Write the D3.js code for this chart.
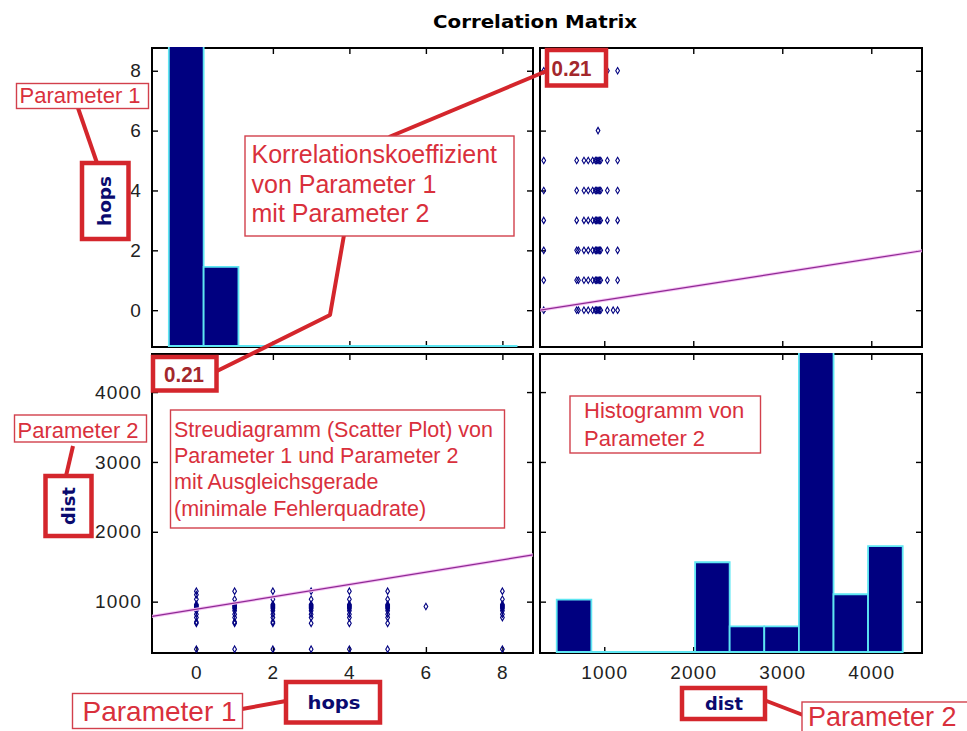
<!DOCTYPE html>
<html><head><meta charset="utf-8">
<script src="https://cdn.jsdelivr.net/npm/d3@7"></script>
<style>body{margin:0;background:#fff} svg{display:block}</style>
</head><body>
<svg id="c" width="967" height="731"></svg>
<script>
// ---------------- data ----------------
const hopsLevels = [0, 1, 2, 3, 4, 5, 6, 8];
const distByHops = [
  [320, 690, 710, 772, 820, 870, 900, 915, 930, 945, 960, 1035, 1100, 1150],
  [320, 690, 710, 772, 820, 870, 900, 915, 930, 945, 960, 1035, 1150],
  [320, 690, 710, 772, 820, 870, 900, 915, 930, 945, 960, 1035, 1150],
  [320, 690, 772, 820, 870, 900, 915, 930, 945, 960, 1035, 1150],
  [320, 690, 772, 820, 870, 900, 915, 930, 945, 960, 1035, 1150],
  [320, 690, 772, 820, 870, 900, 915, 930, 945, 960, 1035, 1150],
  [930],
  [320, 772, 820, 870, 900, 915, 930, 945, 960, 1035, 1150]
];
const hopsTicks = [0, 2, 4, 6, 8];
const distTicks = [1000, 2000, 3000, 4000];
const hopsDomainX = [-1.16, 8.8];
const hopsDomainY = [-1.23, 8.76];
const distDomainX = [278, 4570];
const distDomainY = [265, 4545];
const hopsHistEdges = [-0.72, 0.19, 1.10, 2.01, 2.92, 3.83, 4.73, 5.64, 6.55, 7.46, 8.37];
const hopsHistCounts = [90, 15, 0, 0, 0, 0, 0, 0, 0, 0];
const distHistEdges = [466, 855, 1243, 1632, 2021, 2409, 2798, 3187, 3576, 3964, 4353];
const distHistCounts = [10, 0, 0, 0, 17, 5, 5, 90, 11, 20];
const histCountDomain = [0, 56];
const fitDistOnHops = [892, 88.4];      // dist = a + b * hops
const fitHopsOnDist = [-0.125, 0.000462]; // hops = a + b * dist
const corrLabel = "0.21";
const titleText = "Correlation Matrix";
const varNames = ["hops", "dist"];

// ---------------- layout ----------------
const colX = [[152, 533], [540, 922]];
const rowY = [[48, 347], [354, 653]];
const NAVY = "#000080", CYAN = "#5ee6f2", RED = "#d4262c", TXTRED = "#d9303c";

const svg = d3.select("#c");
const xHops = d3.scaleLinear(hopsDomainX, colX[0]);
const xDist = d3.scaleLinear(distDomainX, colX[1]);
const yHops = d3.scaleLinear(hopsDomainY, [rowY[0][1], rowY[0][0]]);
const yDist = d3.scaleLinear(distDomainY, [rowY[1][1], rowY[1][0]]);
const yCntTop = d3.scaleLinear(histCountDomain, [rowY[0][1], rowY[0][0]]);
const yCntBot = d3.scaleLinear(histCountDomain, [rowY[1][1], rowY[1][0]]);

const defs = svg.append("defs");
const panels = [
  {id: "p00", c: 0, r: 0, x: xHops, y: yHops},
  {id: "p01", c: 1, r: 0, x: xDist, y: yHops},
  {id: "p10", c: 0, r: 1, x: xHops, y: yDist},
  {id: "p11", c: 1, r: 1, x: xDist, y: yDist}
];
panels.forEach(p => {
  defs.append("clipPath").attr("id", "clip" + p.id).append("rect")
    .attr("x", colX[p.c][0]).attr("y", rowY[p.r][0] - 1)
    .attr("width", colX[p.c][1] - colX[p.c][0]).attr("height", rowY[p.r][1] - rowY[p.r][0] + 1);
});

// title
svg.append("text").attr("x", 535).attr("y", 28).attr("text-anchor", "middle")
  .attr("font-family", "DejaVu Sans").attr("font-weight", "bold").attr("font-size", 18.5)
  .attr("textLength", 204).attr("lengthAdjust", "spacingAndGlyphs")
  .text(titleText);

// axes: ticks inward on all four sides + frames
function styleAxis(sel) {
  sel.select(".domain").remove();
  sel.selectAll(".tick line").attr("stroke", "#000").attr("stroke-width", 1.4);
  sel.selectAll("text").attr("font-family", "Liberation Sans").attr("font-size", 19)
    .attr("fill", "#222").attr("letter-spacing", 1.2);
}
const TK = 6;
panels.forEach(p => {
  const xt = p.c === 0 ? hopsTicks : distTicks;
  const yt = p.r === 0 ? hopsTicks : distTicks;
  const [x0, x1] = colX[p.c], [y0, y1] = rowY[p.r];
  const showX = p.r === 1, showY = p.c === 0;
  svg.append("g").attr("transform", `translate(0,${y1})`)
    .call(d3.axisBottom(p.x).tickValues(xt).tickSize(-TK).tickPadding(13).tickFormat(showX ? d3.format("d") : ""))
    .call(styleAxis);
  svg.append("g").attr("transform", `translate(0,${y0})`)
    .call(d3.axisTop(p.x).tickValues(xt).tickSize(-TK).tickFormat(""))
    .call(styleAxis);
  svg.append("g").attr("transform", `translate(${x0},0)`)
    .call(d3.axisLeft(p.y).tickValues(yt).tickSize(-TK).tickPadding(10).tickFormat(showY ? d3.format("d") : ""))
    .call(styleAxis);
  svg.append("g").attr("transform", `translate(${x1},0)`)
    .call(d3.axisRight(p.y).tickValues(yt).tickSize(-TK).tickFormat(""))
    .call(styleAxis);
  svg.append("rect").attr("x", x0).attr("y", y0).attr("width", x1 - x0).attr("height", y1 - y0)
    .attr("fill", "none").attr("stroke", "#000").attr("stroke-width", 2);
});

// histograms (drawn over the frame, like the reference)
function drawHist(id, edges, counts, xs, ys) {
  const g = svg.append("g").attr("clip-path", `url(#clip${id})`);
  const bins = counts.map((c, i) => ({x0: edges[i], x1: edges[i + 1], c}));
  g.selectAll("path").data(bins).join("path")
    .attr("d", b => `M${xs(b.x0)},${ys(0) - 1}V${ys(b.c)}H${xs(b.x1)}V${ys(0) - 1}Z`)
    .attr("fill", NAVY).attr("stroke", CYAN).attr("stroke-width", 1.8);
}
drawHist("p00", hopsHistEdges, hopsHistCounts, xHops, yCntTop);
drawHist("p11", distHistEdges, distHistCounts, xDist, yCntBot);

// scatter points
const obs = [];
hopsLevels.forEach((h, i) => distByHops[i].forEach(d => obs.push({h, d})));
const sym = d3.symbol(d3.symbolDiamond, 12);

function drawFit(id, x1, y1, x2, y2) {
  const g = svg.append("g").attr("clip-path", `url(#clip${id})`);
  g.append("line").attr("x1", x1).attr("y1", y1).attr("x2", x2).attr("y2", y2)
    .attr("stroke", "#f6c4f4").attr("stroke-width", 3.2);
  g.append("line").attr("x1", x1).attr("y1", y1).attr("x2", x2).attr("y2", y2)
    .attr("stroke", "#8e2a94").attr("stroke-width", 1.2);
}
// top-right: x = dist, y = hops
{
  const g = svg.append("g").attr("clip-path", "url(#clipp01)");
  g.selectAll("path").data(obs).join("path")
    .attr("transform", o => `translate(${xDist(o.d)},${yHops(o.h)})`)
    .attr("d", sym).attr("fill", "none").attr("stroke", NAVY).attr("stroke-width", 1.1);
  drawFit("p01", xDist(distDomainX[0]), yHops(fitHopsOnDist[0] + fitHopsOnDist[1] * distDomainX[0]),
    xDist(distDomainX[1]), yHops(fitHopsOnDist[0] + fitHopsOnDist[1] * distDomainX[1]));
}
// bottom-left: x = hops, y = dist
{
  const g = svg.append("g").attr("clip-path", "url(#clipp10)");
  g.selectAll("path").data(obs).join("path")
    .attr("transform", o => `translate(${xHops(o.h)},${yDist(o.d)})`)
    .attr("d", sym).attr("fill", "none").attr("stroke", NAVY).attr("stroke-width", 1.1);
  drawFit("p10", xHops(hopsDomainX[0]), yDist(fitDistOnHops[0] + fitDistOnHops[1] * hopsDomainX[0]),
    xHops(hopsDomainX[1]), yDist(fitDistOnHops[0] + fitDistOnHops[1] * hopsDomainX[1]));
}

// ---------------- annotations ----------------
const ann = svg.append("g");
function thickLine(pts) {
  ann.append("path").attr("d", d3.line()(pts)).attr("fill", "none")
    .attr("stroke", RED).attr("stroke-width", 4).attr("stroke-linejoin", "round");
}
function thinBox(x, y, w, h) {
  ann.append("rect").attr("x", x).attr("y", y).attr("width", w).attr("height", h)
    .attr("fill", "#fff").attr("stroke", "#d2404c").attr("stroke-width", 1.4);
}
function thickBox(x, y, w, h) {
  ann.append("rect").attr("x", x).attr("y", y).attr("width", w).attr("height", h)
    .attr("fill", "#fff").attr("stroke", RED).attr("stroke-width", 4.5);
}
function redText(x, y, size, lines, lh) {
  lines.forEach((t, i) => ann.append("text").attr("x", x).attr("y", y + i * lh)
    .attr("font-family", "Liberation Sans").attr("font-size", size).attr("fill", TXTRED).text(t));
}
function varLabel(x, y, t, len, rot) {
  ann.append("text").attr("transform", `translate(${x},${y}) rotate(${rot})`)
    .attr("text-anchor", "middle").attr("font-family", "DejaVu Sans").attr("font-weight", "bold")
    .attr("font-size", 18).attr("fill", "#0a0a6e")
    .attr("textLength", len).attr("lengthAdjust", "spacingAndGlyphs").text(t);
}
function corrText(x, y) {
  ann.append("text").attr("x", x).attr("y", y).attr("font-family", "Liberation Sans")
    .attr("font-weight", "bold").attr("font-size", 22).attr("fill", "#a3282c")
    .attr("textLength", 40).attr("lengthAdjust", "spacingAndGlyphs").text(corrLabel);
}

// connector lines
thickLine([[78, 108], [97, 163]]);
thickLine([[389, 137], [549, 70]]);
thickLine([[344, 235], [330, 315], [215, 372]]);
thickLine([[73, 446], [66, 476]]);
thickLine([[242, 709], [286, 701]]);
thickLine([[764, 700], [803, 715]]);

// top-left: Parameter 1 / hops
thinBox(16.5, 83.5, 132, 25);
redText(19.5, 103, 22, ["Parameter 1"], 0);
thickBox(82, 163, 46.5, 76);
varLabel(111, 201, varNames[0], 50, -90);

// Korrelationskoeffizient box
thinBox(245, 136, 269, 100);
redText(251.5, 163, 25, ["Korrelationskoeffizient", "von Parameter 1", "mit Parameter 2"], 29.5);

// correlation values
thickBox(547, 50, 59, 35.5);
corrText(551.5, 76);
thickBox(153, 357, 63.5, 33.5);
corrText(164, 382);

// left: Parameter 2 / dist
thinBox(14.5, 415, 132, 27);
redText(17.5, 437.5, 22, ["Parameter 2"], 0);
thickBox(45.5, 476, 46, 60);
varLabel(75, 506, varNames[1], 38, -90);

// scatter description
thinBox(170.5, 410, 334, 118);
redText(174, 436.5, 21.5, ["Streudiagramm (Scatter Plot) von", "Parameter 1 und Parameter 2",
  "mit Ausgleichsgerade", "(minimale Fehlerquadrate)"], 26.4);

// histogram description
thinBox(570, 396, 190.5, 57);
redText(584, 418, 22, ["Histogramm von", "Parameter 2"], 28);

// bottom labels
thinBox(72.5, 693.5, 170, 35);
redText(82.5, 720.5, 28, ["Parameter 1"], 0);
thickBox(286, 682, 94, 40.5);
varLabel(334, 708.5, varNames[0], 53, 0);
thickBox(682, 688, 83, 31);
varLabel(724, 710, varNames[1], 38, 0);
thinBox(802, 702, 175, 40);
redText(808, 726, 27, ["Parameter 2"], 0);
</script>
</body></html>
